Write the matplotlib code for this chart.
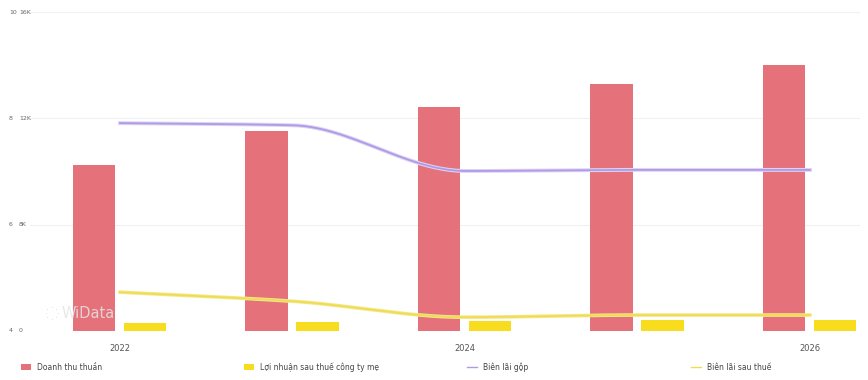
import numpy as np
import matplotlib
matplotlib.use("Agg")
import matplotlib.pyplot as plt
from matplotlib.patches import Patch
from matplotlib.lines import Line2D

plt.rcParams['font.family'] = ['DejaVu Sans']

years = ["2022", "2023", "2024", "2025", "2026"]
revenue = [8.32, 10.03, 11.23, 12.39, 13.34]          # thousand
net_profit = [0.40, 0.45, 0.50, 0.55, 0.55]           # thousand
gross_margin = [7.91, 7.87, 7.01, 7.03, 7.03]         # %
net_margin = [4.73, 4.56, 4.26, 4.30, 4.30]           # %
pct_ticks = [4, 6, 8, 10]
rev_tick_labels = ["0", "8K", "12K", "16K"]
xtick_show = ["2022", "", "2024", "", "2026"]
legend_labels = ["Doanh thu thuần", "Lợi nhuận sau thuế công ty mẹ", "Biên lãi gộp", "Biên lãi sau thuế"]

RED = "#e5717b"
YEL = "#f7dd1e"
LAV = "#b09ae6"
YLINE = "#efdc55"


def pchip(x, y, n=200):
    x = np.asarray(x, float); y = np.asarray(y, float)
    h = np.diff(x); d = np.diff(y) / h
    m = np.zeros_like(y)
    for k in range(1, len(x) - 1):
        if d[k - 1] * d[k] <= 0:
            m[k] = 0
        else:
            w1 = 2 * h[k] + h[k - 1]; w2 = h[k] + 2 * h[k - 1]
            m[k] = (w1 + w2) / (w1 / d[k - 1] + w2 / d[k])
    m[0] = d[0]; m[-1] = d[-1]
    xs = np.linspace(x[0], x[-1], n)
    ys = np.empty_like(xs)
    for i, xv in enumerate(xs):
        k = min(np.searchsorted(x, xv, side='right') - 1, len(x) - 2)
        t = (xv - x[k]) / h[k]
        h00 = 2 * t**3 - 3 * t**2 + 1; h10 = t**3 - 2 * t**2 + t
        h01 = -2 * t**3 + 3 * t**2; h11 = t**3 - t**2
        ys[i] = h00 * y[k] + h10 * h[k] * m[k] + h01 * y[k + 1] + h11 * h[k] * m[k + 1]
    return xs, ys


fig = plt.figure(figsize=(8.68, 3.8), dpi=100)
ax = fig.add_axes([30 / 868, 49 / 380, 830 / 868, 319 / 380])
x = np.arange(len(years))
bw = 0.245
ax.set_xlim(-0.522, 4.29)
ax.set_ylim(0, 16)
for g in np.linspace(0, 16, 4):
    ax.axhline(g, color="#f0f0f0", lw=0.8, zorder=0)
ax.bar(x - 0.151, revenue, width=bw, color=RED, zorder=2)
ax.bar(x + 0.145, net_profit, width=bw, color=YEL, zorder=2)

ax2 = ax.twinx()
ax2.set_ylim(4, 10)
xs, ys = pchip(x, gross_margin)
ax2.plot(xs, ys, color="#ddd3f5", lw=2.8, zorder=3)
ax2.plot(xs, ys, color=LAV, lw=1.3, zorder=4)
xs, ys = pchip(x, net_margin)
ax2.plot(xs, ys, color="#f3e98a", lw=2.6, zorder=3)
ax2.plot(xs, ys, color=YLINE, lw=1.3, zorder=4)

ax.set_yticks([])
ax2.set_yticks([])
ax.tick_params(left=False, bottom=False, right=False)
ax2.tick_params(left=False, right=False)
for t, rl in zip(pct_ticks, rev_tick_labels):
    yy = ax2.transData.transform((0, t))[1]
    fig.text(9 / 868, yy / 380, str(t), fontsize=4.5, color="#666666", va='center', ha='left')
    fig.text(19 / 868, yy / 380, rl, fontsize=4.5, color="#666666", va='center', ha='left')

ax.set_xticks(x)
ax.set_xticklabels(xtick_show, fontsize=6, color="#555555")
ax.tick_params(axis='x', pad=6)
for a in (ax, ax2):
    for s in a.spines.values():
        s.set_visible(False)

# watermark
fig.text(62 / 868, 66 / 380, "WiData", fontsize=10.5, color="#e4e4e4", alpha=0.85,
         va='center', ha='left', zorder=5)
ang = np.linspace(0, 2 * np.pi, 9)[:-1]
for a_ in ang:
    fig.text((52 + 6 * np.cos(a_)) / 868, (66 + 6 * np.sin(a_)) / 380, "·", fontsize=7,
             color="#dcdcdc", ha='center', va='center')

handles = [Patch(facecolor=RED), Patch(facecolor=YEL),
           Line2D([], [], color=LAV, lw=1.0), Line2D([], [], color=YLINE, lw=1.0)]
xpos = [14, 237, 460, 684]
for h, lab, xp in zip(handles, legend_labels, xpos):
    fig.legend([h], [lab], loc='center left', bbox_to_anchor=(xp / 868, 13 / 380),
               frameon=False, fontsize=5.5, handlelength=1.3, handleheight=0.7,
               handletextpad=0.8, labelcolor="#444444")

fig.savefig("out.png", dpi=100, facecolor="white")
